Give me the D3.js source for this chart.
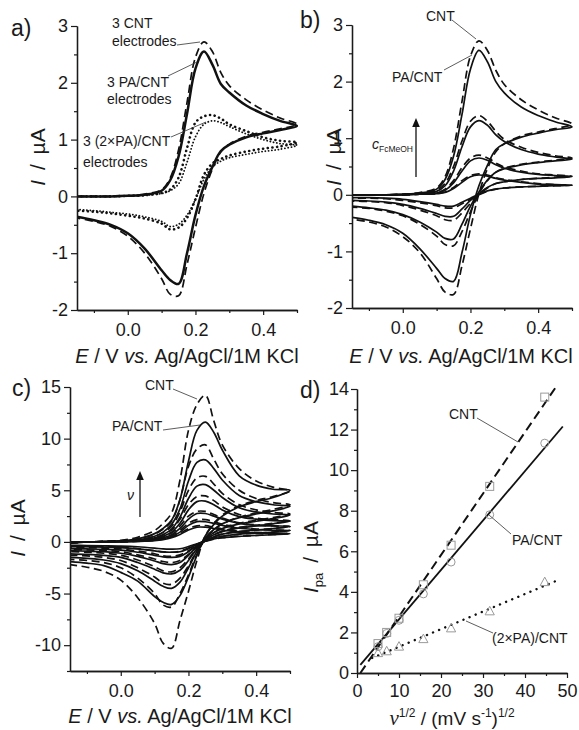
<!DOCTYPE html>
<html><head><meta charset="utf-8">
<script src="https://cdn.jsdelivr.net/npm/d3@7"></script>
<style>
body{margin:0;background:#fff}
text{font-family:"Liberation Sans",Arial,sans-serif;fill:#1a1a1a}
</style>
</head><body>
<svg id="chart" width="579" height="730" xmlns="http://www.w3.org/2000/svg"></svg>
<script>
// ---------- DATA ----------
// potential grid (V) for the forward sweep, and for the reverse sweep (0.5 V vertex shared)
const E    = [-0.15,-0.1,-0.05,0,0.05,0.1,0.125,0.15,0.175,0.2,0.225,0.25,0.275,0.3,0.35,0.4,0.45,0.5];
const Erev = [0.45,0.4,0.35,0.3,0.275,0.25,0.225,0.2,0.175,0.15,0.125,0.1,0.05,0,-0.05,-0.1,-0.15];

// panel a) currents (µA)
const aCNT_f  = [0,0,0,0.01,0.04,0.12,0.32,0.82,1.65,2.45,2.72,2.55,2.18,1.95,1.7,1.52,1.38,1.27];
const aCNT_r  = [1.19,1.13,1.06,0.92,0.78,0.48,0.05,-0.55,-1.2,-1.75,-1.72,-1.45,-1.0,-0.7,-0.53,-0.44,-0.38];
const aPA_f   = [0,0,0,0.01,0.03,0.1,0.28,0.7,1.45,2.25,2.55,2.32,1.98,1.83,1.6,1.45,1.33,1.24];
const aPA_r   = [1.17,1.11,1.04,0.91,0.8,0.52,0.18,-0.33,-1.0,-1.54,-1.47,-1.3,-0.92,-0.65,-0.5,-0.42,-0.36];
const a2PA1_f = [0,0,0,0.01,0.02,0.06,0.12,0.33,0.85,1.3,1.41,1.43,1.37,1.27,1.15,1.04,0.98,0.95];
const a2PA1_r = [0.88,0.84,0.79,0.72,0.66,0.58,0.38,-0.05,-0.38,-0.55,-0.58,-0.48,-0.39,-0.34,-0.3,-0.27,-0.25];
const a2PA2_f = [0,0,0,0.01,0.02,0.05,0.1,0.22,0.6,1.05,1.27,1.33,1.3,1.23,1.1,1.0,0.93,0.9];
const a2PA2_r = [0.83,0.79,0.74,0.68,0.62,0.52,0.3,-0.05,-0.33,-0.49,-0.53,-0.44,-0.36,-0.31,-0.28,-0.25,-0.23];

// panel b) four FcMeOH concentrations
const bCNT1_f = [0,0,0,0.01,0.04,0.12,0.32,0.82,1.65,2.45,2.72,2.55,2.2,1.95,1.68,1.5,1.36,1.25];
const bCNT1_r = [1.17,1.11,1.04,0.9,0.76,0.46,0.02,-0.6,-1.25,-1.76,-1.72,-1.48,-1.02,-0.74,-0.57,-0.48,-0.43];
const bPA1_f  = [0,0,0,0.01,0.03,0.1,0.27,0.68,1.42,2.22,2.55,2.35,2.0,1.8,1.55,1.4,1.29,1.2];
const bPA1_r  = [1.15,1.09,1.02,0.9,0.8,0.52,0.16,-0.35,-1.02,-1.53,-1.48,-1.3,-0.95,-0.68,-0.53,-0.45,-0.4];
const bCNT2_f = [0,0,0,0.01,0.03,0.08,0.2,0.5,0.95,1.3,1.4,1.3,1.12,0.98,0.84,0.75,0.69,0.65];
const bCNT2_r = [0.61,0.58,0.54,0.47,0.4,0.25,0.02,-0.3,-0.65,-0.9,-0.88,-0.73,-0.52,-0.37,-0.29,-0.24,-0.22];
const bPA2_f  = [0,0,0,0.01,0.02,0.06,0.16,0.42,0.85,1.2,1.31,1.23,1.06,0.94,0.8,0.72,0.67,0.63];
const bPA2_r  = [0.6,0.57,0.53,0.46,0.4,0.26,0.05,-0.2,-0.52,-0.78,-0.77,-0.66,-0.48,-0.35,-0.27,-0.23,-0.2];
const bCNT3_f = [0,0,0,0,0.01,0.04,0.1,0.25,0.48,0.65,0.7,0.65,0.56,0.49,0.42,0.37,0.35,0.33];
const bCNT3_r = [0.31,0.29,0.27,0.23,0.2,0.12,0,-0.15,-0.32,-0.45,-0.44,-0.37,-0.27,-0.19,-0.14,-0.12,-0.11];
const bPA3_f  = [0,0,0,0,0.01,0.03,0.08,0.21,0.42,0.6,0.65,0.61,0.53,0.47,0.4,0.36,0.34,0.32];
const bPA3_r  = [0.3,0.29,0.27,0.23,0.2,0.13,0.02,-0.1,-0.25,-0.38,-0.38,-0.33,-0.24,-0.17,-0.13,-0.11,-0.1];
const bCNT4_f = [0,0,0,0,0.01,0.02,0.05,0.13,0.25,0.34,0.37,0.35,0.3,0.27,0.23,0.2,0.18,0.17];
const bCNT4_r = [0.16,0.15,0.14,0.12,0.1,0.06,0,-0.08,-0.16,-0.23,-0.23,-0.19,-0.14,-0.1,-0.07,-0.06,-0.06];
const bPA4_f  = [0,0,0,0,0.01,0.02,0.04,0.11,0.22,0.32,0.35,0.33,0.29,0.26,0.22,0.19,0.18,0.17];
const bPA4_r  = [0.16,0.15,0.14,0.12,0.1,0.07,0.01,-0.06,-0.13,-0.2,-0.2,-0.17,-0.12,-0.08,-0.06,-0.05,-0.05];

// panel c) seven scan rates
const cCNT1_f = [-0.1,0,0.05,0.15,0.45,1.1,1.8,2.8,6.0,10.8,13.3,14.2,11.7,9.4,7.1,5.9,5.3,4.95];
const cCNT1_r = [4.4,4.0,3.5,2.6,1.8,0.6,-1.8,-4.8,-7.6,-10.3,-9.8,-7.9,-5.4,-3.7,-2.85,-2.45,-2.2];
const cPA1_f  = [-0.1,0,0.03,0.1,0.3,0.8,1.3,2.1,4.1,7.8,10.8,11.6,10.6,8.9,6.4,5.5,5.1,5.0];
const cPA1_r  = [4.3,3.9,3.4,2.5,1.7,0.6,-1.3,-3.4,-5.2,-6.05,-5.85,-5.3,-3.8,-2.95,-2.3,-2.05,-1.9];
const cCNT2_f = [-0.1,0,0.03,0.1,0.3,0.75,1.25,2.0,4.1,7.3,9.0,9.4,8.0,6.6,5.0,4.2,3.8,3.6];
const cCNT2_r = [3.15,2.8,2.4,1.75,1.15,0.3,-1.2,-3.2,-5.0,-6.3,-6.1,-5.0,-3.5,-2.5,-2.0,-1.8,-1.7];
const cPA2_f  = [-0.1,0,0.02,0.07,0.2,0.55,0.95,1.7,3.2,5.9,7.7,7.95,7.1,6.0,4.5,3.9,3.6,3.45];
const cPA2_r  = [3.0,2.7,2.35,1.75,1.2,0.4,-0.9,-2.5,-3.9,-4.5,-4.3,-3.8,-2.8,-2.1,-1.75,-1.6,-1.5];
const cCNT3_f = [-0.08,0,0.02,0.07,0.2,0.55,0.9,1.5,2.9,5.0,6.2,6.35,5.6,4.7,3.6,3.1,2.85,2.7];
const cCNT3_r = [2.35,2.1,1.8,1.35,0.9,0.25,-0.85,-2.3,-3.5,-4.1,-4.0,-3.4,-2.5,-1.8,-1.5,-1.35,-1.3];
const cPA3_f  = [-0.08,0,0.02,0.05,0.15,0.4,0.7,1.25,2.4,4.2,5.4,5.55,5.0,4.3,3.3,2.9,2.7,2.6];
const cPA3_r  = [2.25,2.0,1.75,1.3,0.9,0.3,-0.65,-1.8,-2.75,-3.1,-3.0,-2.65,-2.0,-1.5,-1.3,-1.2,-1.15];
const cCNT4_f = [-0.05,0,0.02,0.05,0.15,0.4,0.7,1.15,2.2,3.6,4.4,4.45,4.0,3.4,2.65,2.3,2.15,2.05];
const cCNT4_r = [1.8,1.6,1.4,1.05,0.7,0.2,-0.6,-1.65,-2.5,-2.9,-2.8,-2.4,-1.75,-1.3,-1.1,-1.0,-0.95];
const cPA4_f  = [-0.05,0,0.02,0.04,0.12,0.3,0.55,0.95,1.8,3.1,3.9,3.95,3.6,3.1,2.45,2.2,2.05,2.0];
const cPA4_r  = [1.75,1.55,1.35,1.0,0.7,0.25,-0.45,-1.3,-2.0,-2.2,-2.1,-1.85,-1.4,-1.1,-0.95,-0.9,-0.85];
const cCNT5_f = [-0.03,0,0.01,0.04,0.1,0.28,0.5,0.85,1.55,2.5,2.95,2.95,2.65,2.3,1.85,1.65,1.55,1.5];
const cCNT5_r = [1.3,1.15,1.0,0.75,0.5,0.1,-0.45,-1.2,-1.8,-2.0,-1.9,-1.65,-1.25,-0.95,-0.82,-0.78,-0.75];
const cPA5_f  = [-0.03,0,0.01,0.03,0.09,0.22,0.4,0.7,1.3,2.2,2.75,2.75,2.5,2.2,1.8,1.6,1.55,1.5];
const cPA5_r  = [1.3,1.15,1.0,0.75,0.5,0.15,-0.35,-0.95,-1.4,-1.5,-1.45,-1.3,-1.0,-0.8,-0.72,-0.68,-0.65];
const cCNT6_f = [-0.02,0,0.01,0.03,0.08,0.2,0.36,0.62,1.1,1.8,2.15,2.15,1.95,1.7,1.4,1.25,1.15,1.1];
const cCNT6_r = [0.95,0.85,0.75,0.55,0.37,0.08,-0.32,-0.85,-1.25,-1.4,-1.35,-1.15,-0.88,-0.68,-0.6,-0.57,-0.55];
const cPA6_f  = [-0.02,0,0.01,0.02,0.07,0.17,0.3,0.52,0.95,1.6,1.97,1.95,1.8,1.6,1.32,1.2,1.13,1.1];
const cPA6_r  = [0.95,0.85,0.75,0.55,0.38,0.1,-0.25,-0.65,-0.95,-1.0,-0.97,-0.87,-0.68,-0.55,-0.5,-0.47,-0.45];
const cCNT7_f = [-0.01,0,0,0.02,0.06,0.15,0.27,0.47,0.82,1.3,1.56,1.57,1.42,1.25,1.02,0.92,0.85,0.82];
const cCNT7_r = [0.72,0.63,0.55,0.41,0.27,0.06,-0.22,-0.6,-0.9,-1.0,-0.97,-0.85,-0.65,-0.5,-0.45,-0.43,-0.42];
const cPA7_f  = [-0.01,0,0,0.02,0.05,0.12,0.22,0.4,0.72,1.15,1.42,1.42,1.3,1.15,0.95,0.87,0.82,0.8];
const cPA7_r  = [0.7,0.62,0.54,0.4,0.28,0.08,-0.18,-0.45,-0.66,-0.7,-0.68,-0.6,-0.47,-0.4,-0.37,-0.35,-0.34];

// panel d) anodic peak current vs square root of scan rate
const sqrtV   = [5, 7.07, 10, 15.8, 22.4, 31.6, 44.7];
const ipaCNT  = [1.45, 2.0, 2.7, 4.35, 6.3, 9.2, 13.6];
const ipaPA   = [1.3, 1.95, 2.6, 3.9, 5.47, 7.8, 11.33];
const ipa2PA  = [0.98, 1.07, 1.3, 1.67, 2.2, 3.04, 4.48];
const fitCNT_x = [0.8, 47.2], fitCNT_y = [0, 14.05];
const fitPA_x  = [0.8, 49],   fitPA_y  = [0.4, 12.15];
const fit2PA_x = [3.6, 47.2], fit2PA_y = [0.74, 4.52];

// tick values
const cvMajorX = [0, 0.2, 0.4], cvMinorX = [-0.1, 0.1, 0.3, 0.5];
const abMajorY = [-2,-1,0,1,2,3], abMinorY = [-1.5,-0.5,0.5,1.5,2.5];
const cMajorY = [-10,-5,0,5,10,15], cMinorY = [-12.5,-7.5,-2.5,2.5,7.5,12.5];
const dMajorX = [0,10,20,30,40,50], dMinorX = [5,15,25,35,45];
const dMajorY = [0,2,4,6,8,10,12,14], dMinorY = [1,3,5,7,9,11,13];

// ---------- DRAWING ----------
const svg = d3.select("#chart");
const INK = "#1a1a1a";
const FONT = '"Liberation Sans", Arial, sans-serif';

function makePanel(id, xd, xr, yd, yr, xMaj, xMin, yMaj, yMin, xfmt, tick) {
  const x = d3.scaleLinear().domain(xd).range(xr);
  const y = d3.scaleLinear().domain(yd).range(yr);
  const g = svg.append("g");
  svg.append("clipPath").attr("id", "clip" + id).append("rect")
    .attr("x", xr[0]).attr("y", yr[1] - 3).attr("width", xr[1] - xr[0] + 1).attr("height", yr[0] - yr[1] + 3);
  const plot = g.append("g").attr("clip-path", `url(#clip${id})`);
  const style = sel => {
    sel.selectAll("path.domain").attr("stroke", INK).attr("stroke-width", 1.3);
    sel.selectAll(".tick line").attr("stroke", INK).attr("stroke-width", 1.2);
    sel.selectAll(".tick text").attr("font-family", FONT).attr("font-size", 18).attr("fill", INK);
  };
  g.append("g").attr("transform", `translate(0,${yr[0]})`)
    .call(d3.axisBottom(x).tickValues(xMin).tickFormat("").tickSize(3).tickSizeOuter(0)).call(style);
  g.append("g").attr("transform", `translate(0,${yr[0]})`)
    .call(d3.axisBottom(x).tickValues(xMaj).tickFormat(xfmt).tickSize(5).tickPadding(tick.xp).tickSizeOuter(0)).call(style);
  g.append("g").attr("transform", `translate(${xr[0]},0)`)
    .call(d3.axisLeft(y).tickValues(yMin).tickFormat("").tickSize(3).tickSizeOuter(0)).call(style);
  g.append("g").attr("transform", `translate(${xr[0]},0)`)
    .call(d3.axisLeft(y).tickValues(yMaj).tickFormat(d => String(d).replace("\u2212", "-")).tickSize(6).tickPadding(tick.yp).tickSizeOuter(0)).call(style);
  return { x, y, g, plot };
}

const fmtE = d => d.toFixed(1);
const pa = makePanel("a", [-0.15, 0.5], [77, 297], [-2, 3], [310, 26], cvMajorX, cvMinorX, abMajorY, abMinorY, fmtE, {xp: 8, yp: 3});
const pb = makePanel("b", [-0.15, 0.5], [352, 572], [-2, 3], [308, 25], cvMajorX, cvMinorX, abMajorY, abMinorY, fmtE, {xp: 8, yp: 3});
const pc = makePanel("c", [-0.15, 0.5], [70, 290], [-12.5, 15], [671, 387], cvMajorX, cvMinorX, cMajorY, cMinorY, fmtE, {xp: 8, yp: 3});
const pd = makePanel("d", [0, 50], [357, 567], [0, 14], [673, 389], dMajorX, dMinorX, dMajorY, dMinorY, d => String(d), {xp: 6, yp: 2});

const STY = {
  solid:  { w: 1.7, dash: null, cap: "butt" },
  solidA: { w: 2.5, dash: null, cap: "butt" },
  dash:   { w: 1.7, dash: "8,4.5", cap: "butt" },
  dot1:   { w: 2.6, dash: "0.1,4.6", cap: "round" },
  dot2:   { w: 1.8, dash: "0.1,3.2", cap: "round" }
};

function cv(p, f, r, s) {
  const pts = E.map((e, i) => [e, f[i]]).concat(Erev.map((e, i) => [e, r[i]]));
  const st = STY[s];
  const line = d3.line().x(d => p.x(d[0])).y(d => p.y(d[1])).curve(d3.curveCatmullRom.alpha(0.5));
  p.plot.append("path").attr("d", line(pts)).attr("fill", "none").attr("stroke", "#111")
    .attr("stroke-width", st.w).attr("stroke-dasharray", st.dash).attr("stroke-linecap", st.cap)
    .attr("stroke-linejoin", "round");
}

// a
cv(pa, a2PA2_f, a2PA2_r, "dot2");
cv(pa, a2PA1_f, a2PA1_r, "dot1");
cv(pa, aCNT_f, aCNT_r, "dash");
cv(pa, aPA_f, aPA_r, "solidA");
// b
[[bCNT1_f,bCNT1_r],[bCNT2_f,bCNT2_r],[bCNT3_f,bCNT3_r],[bCNT4_f,bCNT4_r]].forEach(c => cv(pb, c[0], c[1], "dash"));
[[bPA1_f,bPA1_r],[bPA2_f,bPA2_r],[bPA3_f,bPA3_r],[bPA4_f,bPA4_r]].forEach(c => cv(pb, c[0], c[1], "solid"));
// c
[[cCNT1_f,cCNT1_r],[cCNT2_f,cCNT2_r],[cCNT3_f,cCNT3_r],[cCNT4_f,cCNT4_r],[cCNT5_f,cCNT5_r],[cCNT6_f,cCNT6_r],[cCNT7_f,cCNT7_r]]
  .forEach(c => cv(pc, c[0], c[1], "dash"));
[[cPA1_f,cPA1_r],[cPA2_f,cPA2_r],[cPA3_f,cPA3_r],[cPA4_f,cPA4_r],[cPA5_f,cPA5_r],[cPA6_f,cPA6_r],[cPA7_f,cPA7_r]]
  .forEach(c => cv(pc, c[0], c[1], "solid"));

// d: fits
function fit(xs, ys, w, dash, cap) {
  pd.g.append("line").attr("x1", pd.x(xs[0])).attr("y1", pd.y(ys[0])).attr("x2", pd.x(xs[1])).attr("y2", pd.y(ys[1]))
    .attr("stroke", "#111").attr("stroke-width", w).attr("stroke-dasharray", dash).attr("stroke-linecap", cap);
}
fit(fitCNT_x, fitCNT_y, 2, "9,5", "butt");
fit(fitPA_x, fitPA_y, 1.8, null, "butt");
fit(fit2PA_x, fit2PA_y, 2.4, "0.1,6.5", "round");
// d: markers
const MK = "#9a9a9a";
sqrtV.forEach((v, i) => {
  pd.g.append("rect").attr("x", pd.x(v) - 4).attr("y", pd.y(ipaCNT[i]) - 4).attr("width", 8).attr("height", 8)
    .attr("fill", "none").attr("stroke", MK).attr("stroke-width", 1);
  pd.g.append("circle").attr("cx", pd.x(v)).attr("cy", pd.y(ipaPA[i])).attr("r", 4)
    .attr("fill", "none").attr("stroke", MK).attr("stroke-width", 1);
  const cx = pd.x(v), cy = pd.y(ipa2PA[i]);
  pd.g.append("path").attr("d", `M${cx},${cy - 5}L${cx + 4.6},${cy + 3.5}L${cx - 4.6},${cy + 3.5}Z`)
    .attr("fill", "none").attr("stroke", MK).attr("stroke-width", 1);
});

// ---------- TEXT ----------
function txt(x, y, s, size, opts = {}) {
  const t = svg.append("text").attr("x", x).attr("y", y).attr("font-size", size)
    .attr("text-anchor", opts.anchor || "start").attr("font-family", FONT);
  if (opts.italic) t.attr("font-style", "italic");
  t.text(s);
  return t;
}
function lead(x1, y1, x2, y2) {
  svg.append("line").attr("x1", x1).attr("y1", y1).attr("x2", x2).attr("y2", y2)
    .attr("stroke", "#333").attr("stroke-width", 0.8);
}

// panel letters
txt(11, 36, "a)", 23); txt(300, 28, "b)", 23); txt(12, 396, "c)", 23); txt(300, 398, "d)", 23);

// x titles (CV panels)
function eTitle(cx, y) {
  const t = svg.append("text").attr("x", cx).attr("y", y).attr("text-anchor", "middle").attr("font-size", 20).attr("font-family", FONT);
  t.append("tspan").attr("font-style", "italic").text("E");
  t.append("tspan").text(" / V ");
  t.append("tspan").attr("font-style", "italic").text("vs.");
  t.append("tspan").text(" Ag/AgCl/1M KCl");
}
eTitle(187, 363); eTitle(461, 363); eTitle(180, 723);

function iTitle(cx, cy) {
  const t = svg.append("text").attr("transform", `translate(${cx},${cy}) rotate(-90)`).attr("text-anchor", "middle")
    .attr("font-size", 21).attr("font-family", FONT).attr("word-spacing", 4);
  t.append("tspan").attr("font-style", "italic").text("I");
  t.append("tspan").text(" / \u00b5A");
}
iTitle(45, 157); iTitle(341, 157); iTitle(25, 528);

// d titles
{
  const t = svg.append("text").attr("transform", "translate(318,557) rotate(-90)").attr("text-anchor", "middle")
    .attr("font-size", 21).attr("font-family", FONT).attr("word-spacing", 4);
  t.append("tspan").attr("font-style", "italic").text("I");
  t.append("tspan").attr("font-size", 13).attr("dy", 5).text("pa");
  t.append("tspan").attr("dy", -5).text(" / \u00b5A");
  const u = svg.append("text").attr("x", 452).attr("y", 725).attr("text-anchor", "middle").attr("font-size", 19).attr("font-family", FONT);
  u.append("tspan").attr("font-family", '"Liberation Serif", serif').attr("font-style", "italic").attr("font-size", 21).text("\u03bd");
  u.append("tspan").attr("font-size", 12).attr("dy", -8).text("1/2");
  u.append("tspan").attr("dy", 8).text(" / (mV s");
  u.append("tspan").attr("font-size", 12).attr("dy", -8).text("-1");
  u.append("tspan").attr("dy", 8).text(")");
  u.append("tspan").attr("font-size", 12).attr("dy", -8).text("1/2");
}

// annotations a
txt(112, 28, "3 CNT", 14); txt(112, 46, "electrodes", 14); lead(177, 45, 200, 42);
txt(107, 87, "3 PA/CNT", 14); txt(107, 104, "electrodes", 14); lead(168, 76, 197, 62);
txt(83, 146, "3 (2\u00d7PA)/CNT", 14); txt(83, 167, "electrodes", 14); lead(171, 137, 206, 122);
// annotations b
txt(426, 21, "CNT", 14); lead(452, 20, 476, 39);
txt(392, 82, "PA/CNT", 14); lead(444, 70, 472, 55);
// arrow b
function arrow(x, y1, y2) {
  svg.append("line").attr("x1", x).attr("y1", y1).attr("x2", x).attr("y2", y2 + 7).attr("stroke", "#111").attr("stroke-width", 1.3);
  svg.append("path").attr("d", `M${x},${y2}L${x + 3.8},${y2 + 9}L${x - 3.8},${y2 + 9}Z`).attr("fill", "#111");
}
arrow(416, 177, 118);
{
  const t = svg.append("text").attr("x", 372).attr("y", 149).attr("font-size", 14).attr("font-family", FONT);
  t.append("tspan").attr("font-style", "italic").text("c");
  t.append("tspan").attr("font-size", 8.5).attr("dy", 3).text("FcMeOH");
}
// annotations c
txt(145, 390, "CNT", 14); lead(173, 389, 197, 399);
txt(112, 431, "PA/CNT", 14); lead(163, 430, 200, 425);
arrow(140, 517, 471);
txt(127, 500, "\u03bd", 14, {italic: true}).attr("font-family", '"Liberation Serif", serif');
// annotations d
txt(449, 419, "CNT", 14); lead(477, 418, 518, 442);
txt(512, 545, "PA/CNT", 14); lead(489, 515, 511, 534);
txt(492, 643, "(2\u00d7PA)/CNT", 14); lead(466, 621, 493, 633);
</script>
</body></html>
